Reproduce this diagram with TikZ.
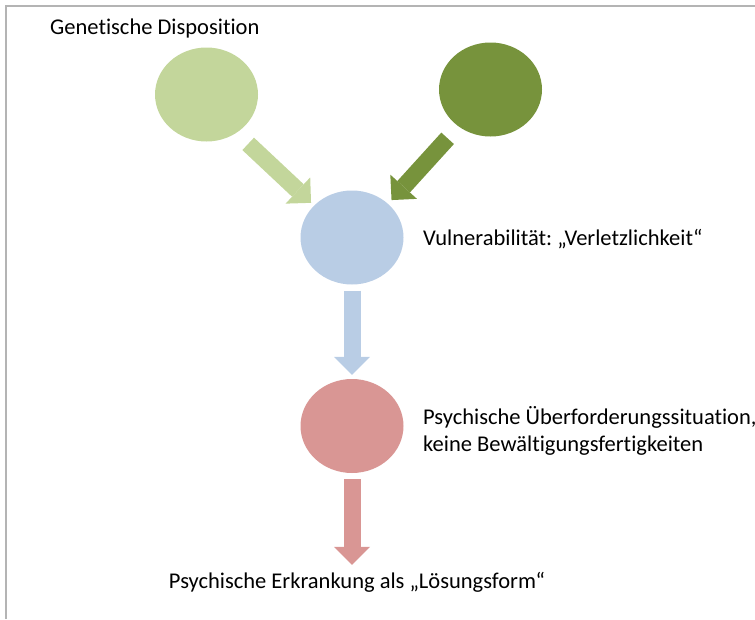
\documentclass[tikz,border=0pt]{standalone}
\usepackage{fontspec}
\setmainfont{Carlito}[Ligatures=NoCommon]
\usepackage{tikz}
\usetikzlibrary{arrows.meta}
\usetikzlibrary{shapes.geometric}
\definecolor{lgreen}{HTML}{C3D69B}
\definecolor{dgreen}{HTML}{77933C}
\definecolor{lblue}{HTML}{B9CDE5}
\definecolor{lred}{HTML}{D99694}
\definecolor{framegray}{HTML}{B4B4B4}
\frenchspacing

\begin{document}
\begin{tikzpicture}[x=1pt, y=-1pt,
    blob/.style={ellipse, minimum width=103pt, minimum height=94pt, inner sep=0pt},
    fat/.style={line width=17pt, -{Triangle[width=36pt, length=18pt, line width=0pt]}},
    lbl/.style={font=\fontsize{22.5}{26.5}\selectfont, inner sep=0pt, align=left}]
    \useasboundingbox (0,0) rectangle (755,619);
    \draw [framegray, line width=2pt] (6,619)--(6,5.5)--(755,5.5);

    \node [blob, fill=lgreen] (gen) at (206.5,94.5) {};
    \node [blob, fill=dgreen] (env) at (490.5,89.5) {};
    \node [blob, fill=lblue] (vul) at (352,237.5) {};
    \node [blob, fill=lred] (psy) at (352,426) {};

    \node [lbl, anchor=west] (gtxt) at (50,28) {Genetische Disposition};
    \node [lbl, anchor=west] (vtxt) at (423,239) {Vulnerabilität: „Verletzlichkeit“};
    \node [lbl, anchor=west] (ptxt) at (423,431) {Psychische Überforderungssituation,\\keine Bewältigungsfertigkeiten};
    \node [lbl] (etxt) at (357,582) {Psychische Erkrankung als „Lösungsform“};

    \draw [fat, lgreen][shorten <=16pt, shorten >=4pt] (gen.-52) -- (vul.140);
    \draw [fat, dgreen][shorten <=16pt, shorten >=5pt] (env.-131) -- (vul.43);
    \draw [fat, lblue][shorten <=6pt, shorten >=4pt] (vul) -- (psy);
    \draw [fat, lred][shorten <=6pt, shorten >=7pt] (psy) -- (psy |- etxt.north);
\end{tikzpicture}
\end{document}
